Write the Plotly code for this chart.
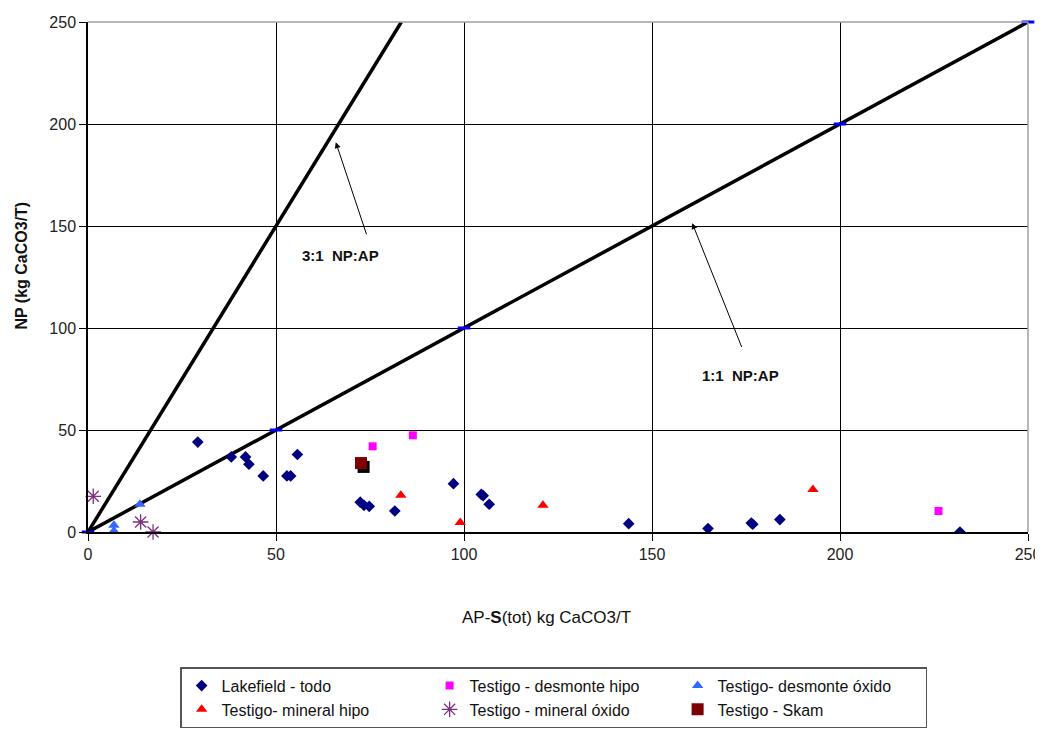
import plotly.graph_objects as go

# ---- data ----
lakefield_x = [29.2, 38.1, 41.9, 42.8, 46.6, 52.9, 53.9, 55.7, 72.4, 73.4, 74.8, 81.6,
               97.2, 104.6, 105.1, 106.7, 143.8, 164.9, 176.4, 176.8, 184.0, 231.9]
lakefield_y = [44.1, 36.8, 36.8, 33.2, 27.5, 27.5, 27.5, 38.0, 14.6, 13.1, 12.6, 10.3,
               23.7, 18.4, 17.8, 13.6, 4.1, 1.7, 4.4, 3.8, 6.1, 0.0]

desm_hipo_x = [75.7, 86.4, 226.2]
desm_hipo_y = [42.0, 47.4, 10.3]

desm_oxido_x = [6.9, 6.9, 13.8]
desm_oxido_y = [3.3, 0.5, 13.6]

min_hipo_x = [83.2, 99.0, 121.0, 192.8]
min_hipo_y = [18.0, 4.6, 13.1, 20.8]

min_oxido_x = [1.4, 14.0, 17.3]
min_oxido_y = [17.5, 4.9, 0.0]

skarn_x = [72.6]
skarn_y = [33.8]
skarn_shadow_x = [73.3]
skarn_shadow_y = [31.9]

ratio11_x = [0, 50, 100, 200, 250]
ratio11_y = [0, 50, 100, 200, 250]
ratio31_x = [0, 250 / 3]
ratio31_y = [0, 250]

tick_vals = [0, 50, 100, 150, 200, 250]
tick_text = ["0", "50", "100", "150", "200", "250"]

FONT = "Liberation Sans, Arial, sans-serif"

fig = go.Figure()

# ratio lines
fig.add_trace(go.Scatter(x=ratio31_x, y=ratio31_y, mode="lines",
                         line=dict(color="black", width=3.5), showlegend=False,
                         hoverinfo="skip"))
fig.add_trace(go.Scatter(x=ratio11_x, y=ratio11_y, mode="lines+markers",
                         line=dict(color="black", width=3.5),
                         marker=dict(symbol="line-ew", size=9, color="#0000ff",
                                     line=dict(color="#0000ff", width=3)),
                         showlegend=False, hoverinfo="skip", cliponaxis=False))

# data series
fig.add_trace(go.Scatter(x=lakefield_x, y=lakefield_y, mode="markers",
                         name="Lakefield - todo",
                         marker=dict(symbol="diamond", size=9, color="#000080")))
fig.add_trace(go.Scatter(x=desm_hipo_x, y=desm_hipo_y, mode="markers",
                         name="Testigo - desmonte hipo",
                         marker=dict(symbol="square", size=8, color="#ff00ff")))
fig.add_trace(go.Scatter(x=desm_oxido_x, y=desm_oxido_y, mode="markers",
                         name="Testigo- desmonte óxido",
                         marker=dict(symbol="triangle-up", size=10, color="#3366ff")))
fig.add_trace(go.Scatter(x=min_hipo_x, y=min_hipo_y, mode="markers",
                         name="Testigo- mineral hipo",
                         marker=dict(symbol="triangle-up", size=10, color="#ff0000")))
fig.add_trace(go.Scatter(x=min_oxido_x, y=min_oxido_y, mode="markers",
                         name="Testigo - mineral óxido", cliponaxis=False,
                         marker=dict(symbol="asterisk-open", size=13, color="#7f2f7f",
                                     line=dict(color="#7f2f7f", width=1.3))))
fig.add_trace(go.Scatter(x=skarn_shadow_x, y=skarn_shadow_y, mode="markers",
                         showlegend=False, hoverinfo="skip",
                         marker=dict(symbol="square", size=12, color="#000000")))
fig.add_trace(go.Scatter(x=skarn_x, y=skarn_y, mode="markers",
                         name="Testigo - Skam",
                         marker=dict(symbol="square", size=12, color="#7f0000")))

# annotations: ratio labels with arrows
fig.add_annotation(x=65.9, y=191.1, ax=74.2, ay=145.2, axref="x", ayref="y",
                   xref="x", yref="y", text="", showarrow=True,
                   arrowhead=2, arrowsize=1.2, arrowwidth=1, arrowcolor="black")
fig.add_annotation(x=67.2, y=135.7, xref="x", yref="y", text="<b>3:1  NP:AP</b>",
                   showarrow=False, font=dict(family=FONT, size=15, color="#111"))
fig.add_annotation(x=160.7, y=151.4, ax=174.0, ay=90.0, axref="x", ayref="y",
                   xref="x", yref="y", text="", showarrow=True,
                   arrowhead=2, arrowsize=1.2, arrowwidth=1, arrowcolor="black")
fig.add_annotation(x=173.5, y=76.9, xref="x", yref="y", text="<b>1:1  NP:AP</b>",
                   showarrow=False, font=dict(family=FONT, size=15, color="#111"))

# axis titles
fig.add_annotation(x=0.4877, y=-0.1674, xref="paper", yref="paper",
                   xanchor="center", yanchor="middle",
                   text="AP-<b>S</b>(tot) kg CaCO3/T", showarrow=False,
                   font=dict(family=FONT, size=17, color="#111"))
fig.add_annotation(x=-0.071, y=0.523, xref="paper", yref="paper",
                   xanchor="center", yanchor="middle",
                   text="<b>NP (kg CaCO3/T)</b>", showarrow=False, textangle=-90,
                   font=dict(family=FONT, size=16, color="#111"))

# top and right borders (gray)
fig.add_shape(type="line", xref="paper", yref="paper", x0=0, x1=1, y0=1, y1=1,
              line=dict(color="#a0a0a0", width=1.5))
fig.add_shape(type="line", xref="paper", yref="paper", x0=1, x1=1, y0=0, y1=1,
              line=dict(color="#a0a0a0", width=1.5))

axis_common = dict(range=[0, 250], tickvals=tick_vals, ticktext=tick_text,
                   showgrid=True, gridcolor="black", gridwidth=1,
                   zeroline=False, showline=True, linecolor="black", linewidth=1.5,
                   ticks="outside", ticklen=7, tickcolor="black", automargin=False,
                   tickfont=dict(family=FONT, size=16, color="#222"))
fig.update_xaxes(**axis_common)
fig.update_yaxes(**axis_common)

fig.update_layout(
    width=1043, height=742,
    margin=dict(l=80, r=23.3, t=14, b=218.3),
    paper_bgcolor="white", plot_bgcolor="white",
    legend=dict(orientation="h", x=0.098, y=-0.265, xanchor="left", yanchor="top",
                entrywidth=203, entrywidthmode="pixels",
                bordercolor="#555", borderwidth=1.5,
                font=dict(family=FONT, size=16, color="#111"),
                itemwidth=30),
    showlegend=True,
)

fig.write_html("out.html")
